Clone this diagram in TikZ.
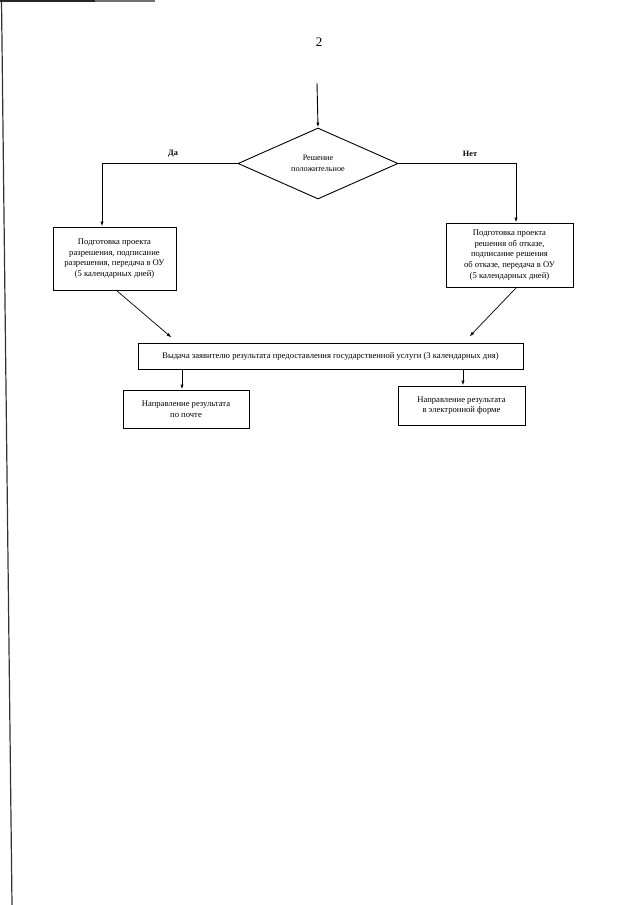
\documentclass[tikz,border=0pt]{standalone}
\usepackage{fontspec}
\setmainfont{Liberation Serif}
\usetikzlibrary{shapes.geometric,arrows.meta,calc}
\begin{document}
\begin{tikzpicture}[x=1pt,y=-1pt,
  line width=0.9pt,
  arr/.style={-{Latex[length=5pt,width=3.2pt]}},
  procbox/.style={draw,rectangle,align=center,inner sep=1pt,font=\fontsize{8.6}{10.8}\selectfont},
  decision/.style={draw,diamond,align=center,inner sep=0pt,font=\fontsize{8.2}{11}\selectfont},
  lbl/.style={font=\bfseries\fontsize{8.2}{10}\selectfont},
  scanedge/.style={line width=1.2pt,black!80}
]
\useasboundingbox (0,0) rectangle (640,905);
% scan edge artefacts
\draw[scanedge] (1.5,0) -- (12,905);
\draw[line width=2pt,black!85] (0,1) -- (95,1);
\draw[line width=2pt,black!55] (95,1) -- (155,1);

\node[font=\fontsize{13}{15}\selectfont] (pnum) at (319,42) {2};

\coordinate (start) at (317,83);
\node[decision,minimum width=160pt,minimum height=71pt] (dia) at (318,163.5) {Решение\\положительное};

\node[procbox,minimum width=123pt,minimum height=63pt] (lbox) at (114.5,258.5)
  {Подготовка проекта\\разрешения, подписание\\разрешения, передача в ОУ\\(5 календарных дней)};
\node[procbox,minimum width=127pt,minimum height=64pt] (rbox) at (509.5,255)
  {Подготовка проекта\\решения об отказе,\\подписание решения\\об отказе, передача в ОУ\\(5 календарных дней)};
\node[procbox,minimum width=385pt,minimum height=26pt] (wide) at (330.5,356)
  {Выдача заявителю результата предоставления государственной услуги (3 календарных дня)};
\node[procbox,minimum width=126pt,minimum height=38pt] (blbox) at (186,409)
  {Направление результата\\по почте};
\node[procbox,minimum width=127pt,minimum height=39pt] (brbox) at (461.5,405.5)
  {Направление результата\\в электронной форме};

\node[lbl] (da) at (173,154) {Да};
\node[lbl] (net) at (470,154) {Нет};

\draw[arr] (start) -- (dia.north);
\draw[arr] (dia.west) -| ([xshift=-12.5pt]lbox.north);
\draw[arr] (dia.east) -| ([xshift=6.5pt]rbox.north);

\coordinate (lend) at ($(wide.north west)+(34,-5)$);
\coordinate (rend) at ($(wide.north east)+(-54,-6)$);
\draw[arr,line width=0.7pt] ([xshift=2pt]lbox.south) -- (lend);
\draw[arr,line width=0.7pt] ([xshift=7pt]rbox.south) -- (rend);

\draw[arr] ([xshift=-4pt]blbox.north |- wide.south) -- ([xshift=-4pt]blbox.north);
\draw[arr] ([xshift=1.5pt]brbox.north |- wide.south) -- ([xshift=1.5pt]brbox.north);
\end{tikzpicture}
\end{document}
